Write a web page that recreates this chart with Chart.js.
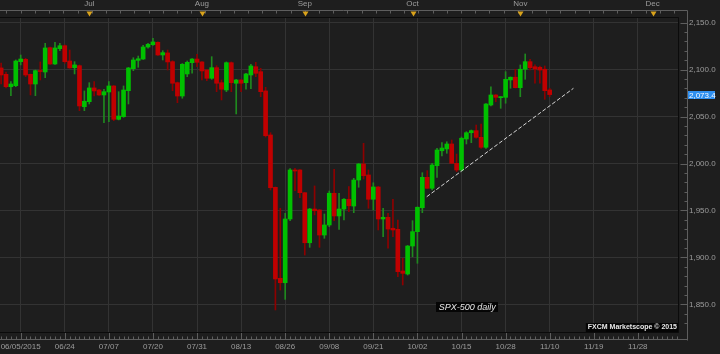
<!DOCTYPE html>
<html><head><meta charset="utf-8">
<script src="https://cdn.jsdelivr.net/npm/chart.js@4.4.0/dist/chart.umd.min.js"></script>
<style>html,body{margin:0;padding:0;background:#1e1e1e;}canvas{display:block;}</style>
</head><body>
<canvas id="c" width="720" height="354"></canvas>
<script>
const dates = ["06/05","06/08","06/09","06/10","06/11","06/12","06/15","06/16","06/17","06/18","06/19","06/22","06/23","06/24","06/25","06/26","06/29","06/30",
"07/01","07/02","07/03","07/06","07/07","07/08","07/09","07/10","07/13","07/14","07/15","07/16","07/17","07/20","07/21","07/22","07/23","07/24","07/27","07/28","07/29","07/30","07/31",
"08/03","08/04","08/05","08/06","08/07","08/10","08/11","08/12","08/13","08/14","08/17","08/18","08/19","08/20","08/21","08/24","08/25","08/26","08/27","08/28","08/31",
"09/01","09/02","09/03","09/04","09/07","09/08","09/09","09/10","09/11","09/14","09/15","09/16","09/17","09/18","09/21","09/22","09/23","09/24","09/25","09/28","09/29","09/30",
"10/01","10/02","10/05","10/06","10/07","10/08","10/09","10/12","10/13","10/14","10/15","10/16","10/19","10/20","10/21","10/22","10/23","10/26","10/27","10/28","10/29","10/30",
"11/02","11/03","11/04","11/05","11/06","11/09","11/10"];
const open = [2101.8,2095.0,2081.8,2082.9,2108.5,2111.0,2095.0,2084.7,2099.0,2097.5,
2123.4,2106.0,2122.3,2125.5,2109.2,2102.1,2104.2,2060.5,2065.9,2080.5,
2078.3,2073.0,2076.2,2082.6,2047.1,2049.9,2077.6,2101.0,2109.9,2111.3,
2124.1,2126.6,2129.1,2115.6,2117.8,2108.5,2086.1,2071.9,2095.4,2107.4,
2111.3,2108.2,2099.6,2090.8,2102.1,2086.1,2078.3,2107.4,2085.5,2089.0,
2086.1,2094.3,2103.1,2097.8,2077.3,2030.4,1974.6,1877.7,1873.0,1940.9,
1993.1,1993.1,1968.9,1915.6,1951.5,1950.5,1923.8,1934.5,1968.3,1944.1,
1951.5,1961.9,1954.7,1982.4,1999.5,1987.8,1961.9,1975.0,1940.9,1942.7,
1931.0,1929.9,1885.5,1882.3,1912.1,1927.4,1952.9,1985.3,1973.6,1997.7,
2013.6,2015.5,2020.8,2000.2,1993.1,2026.1,2032.8,2035.0,2027.9,2017.3,
2062.3,2073.0,2070.1,2070.5,2089.0,2091.9,2080.8,2100.4,2108.5,2103.1,
2102.5,2100.4,2078.3];
const high = [2107.1,2097.5,2087.2,2110.3,2115.6,2112.1,2095.4,2099.6,2108.2,2128.0,
2124.1,2129.1,2128.0,2126.3,2120.9,2108.5,2105.0,2077.3,2086.1,2087.2,
2078.9,2079.1,2087.2,2083.1,2076.5,2082.6,2102.3,2112.7,2114.5,2125.9,
2128.0,2133.4,2129.5,2120.2,2120.9,2109.5,2086.8,2106.5,2109.2,2111.9,
2116.3,2108.7,2100.2,2113.8,2104.2,2089.0,2108.2,2108.2,2089.5,2089.5,
2096.1,2105.7,2107.8,2101.4,2081.2,2032.8,1975.0,1952.3,1946.9,1994.5,
1994.9,1993.6,1969.1,1952.1,1976.1,1951.0,1946.2,1970.7,1993.8,1968.3,
1962.7,1975.3,1984.2,2000.0,2021.5,1993.1,1979.5,1975.5,1952.3,1947.0,
1961.9,1939.8,1899.0,1912.7,1939.1,1953.7,1990.2,1992.4,2000.2,2016.2,
2022.2,2023.2,2025.0,2010.1,2028.2,2033.9,2035.7,2041.0,2042.1,2063.9,
2081.8,2073.5,2071.4,2097.8,2092.2,2100.4,2105.0,2116.7,2111.0,2105.0,
2103.9,2103.9,2080.1];
const low = [2084.7,2080.5,2072.3,2081.8,2105.0,2092.5,2073.0,2072.3,2089.0,2091.4,
2105.5,2105.5,2120.2,2106.8,2101.4,2095.4,2056.3,2056.3,2063.4,2071.9,
2072.5,2043.5,2044.5,2045.6,2046.4,2049.2,2063.4,2098.9,2102.5,2110.8,
2122.8,2125.9,2115.1,2110.3,2099.6,2077.6,2064.8,2069.5,2092.5,2096.1,
2103.1,2089.0,2088.2,2089.7,2076.5,2067.7,2076.5,2076.5,2052.8,2076.5,
2079.1,2079.7,2092.5,2071.2,2028.2,1971.8,1844.0,1865.2,1855.3,1939.1,
1971.0,1963.6,1902.5,1910.7,1945.2,1910.7,1920.3,1932.7,1939.1,1929.9,
1939.8,1948.7,1947.6,1974.7,1983.5,1952.3,1950.5,1929.2,1922.0,1909.7,
1922.0,1879.4,1870.6,1881.2,1900.7,1893.7,1947.6,1973.4,1971.8,1985.3,
2008.0,2010.9,2000.0,1991.3,1992.0,2020.8,2022.2,2026.9,2016.2,2016.2,
2061.3,2065.8,2058.8,2064.2,2080.1,2080.5,2071.2,2089.7,2099.6,2085.5,
2085.5,2068.4,2071.2];
const close = [2094.3,2081.8,2084.7,2109.2,2111.3,2094.3,2084.7,2098.9,2098.0,2123.1,
2106.0,2123.1,2125.5,2108.5,2101.8,2105.0,2061.3,2066.3,2080.5,2077.3,
2073.0,2076.5,2082.6,2047.1,2050.6,2078.3,2101.8,2110.3,2111.6,2124.1,
2127.0,2129.5,2115.6,2118.1,2108.2,2085.5,2071.9,2105.7,2107.8,2111.3,
2107.8,2098.6,2090.8,2102.1,2085.5,2079.1,2107.4,2086.1,2089.0,2085.5,
2095.4,2103.9,2096.1,2076.5,2029.6,1974.2,1877.0,1873.0,1940.9,1993.1,
1992.0,1968.9,1915.6,1951.5,1949.7,1923.8,1934.5,1968.3,1944.1,1951.5,
1961.9,1955.0,1982.4,1999.5,1987.0,1961.9,1975.0,1940.9,1942.7,1930.2,
1929.2,1884.8,1883.0,1912.1,1927.4,1953.4,1985.3,1973.6,1998.4,2014.4,
2016.5,2020.8,2000.2,1993.1,2026.9,2032.8,2035.0,2027.9,2017.3,2063.4,
2073.0,2070.5,2071.2,2089.7,2091.9,2080.8,2100.4,2108.5,2102.1,2100.7,
2099.6,2077.6,2073.4];
const xTickIndex = [4,13,22,31,40,49,58,67,76,85,94,103,112,121,130];
const xTickLabels = ["06/05/2015","06/24","07/07","07/20","07/31","08/13","08/26","09/08","09/21","10/02","10/15","10/28","11/10","11/19","11/28"];
const monthIndex = [18,41,62,84,106,133];
const monthLabels = ["Jul","Aug","Sep","Oct","Nov","Dec"];
const yTicks = [1850,1900,1950,2000,2050,2100,2150];
const trendX = [86.9,116.85];
const trendY = [1964.6,2080.1];
const lastPrice = 2073.4;
const chartTitle = "SPX-500 daily";
const credit = "FXCM Marketscope \u00A9 2015";

const UP='#00c000', DN='#c00000', UPW='#1f8a1f', DNW='#8e0000';
const idx = dates.map((d,i)=>i);
const isUp = idx.map(i=>close[i]>=open[i]);
const wickData = idx.map(i=>({x:i,y:[low[i],high[i]]}));
const bodyData = idx.map(i=>({x:i,y:[Math.min(open[i],close[i]),Math.max(open[i],close[i])]}));
const trendData = trendX.map((v,i)=>({x:v,y:trendY[i]}));

const fmt = v => { const s=Number(v).toFixed(1).split('.'); return s[0].replace(/\B(?=(\d{3})+(?!\d))/g, ',')+'.'+s[1]; };
const FONT = 'Liberation Sans';
const LABEL = '#9c9c9c';
const XMIN=-0.225, XMAX=138.2;

const decor = {
  id:'decor',
  afterDraw(chart){
    const {ctx, chartArea:a, scales} = chart;
    const x=scales.x, y=scales.y;
    ctx.save();
    const axTop=a.top-6.5, axRight=a.right+9.5, axBottom=a.bottom+7.5;
    // dark frame
    ctx.strokeStyle='#0b0b0b'; ctx.lineWidth=1;
    ctx.beginPath();
    ctx.moveTo(a.left,a.top+0.5); ctx.lineTo(a.right+0.5,a.top+0.5); ctx.lineTo(a.right+0.5,a.bottom+0.5); ctx.lineTo(a.left,a.bottom+0.5);
    ctx.stroke();
    // gray axis lines
    ctx.strokeStyle='#5e5e5e';
    ctx.beginPath();
    ctx.moveTo(a.left,axTop); ctx.lineTo(axRight,axTop); ctx.lineTo(axRight,axBottom+1); 
    ctx.moveTo(a.left,axBottom); ctx.lineTo(axRight,axBottom);
    ctx.stroke();
    ctx.beginPath();
    for(let i=Math.ceil(XMIN);i<=XMAX;i++){
      const px=Math.round(x.getPixelForValue(i))+0.5;
      ctx.moveTo(px,axBottom-3); ctx.lineTo(px,axBottom);
    }
    xTickIndex.forEach(v=>{const px=Math.round(x.getPixelForValue(v))+0.5; ctx.moveTo(px,a.bottom+1); ctx.lineTo(px,axBottom);});
    for(let i=1.1;i<XMAX;i+=2.9){
      const px=Math.round(x.getPixelForValue(i))+0.5;
      ctx.moveTo(px,axTop); ctx.lineTo(px,axTop+3);
    }
    for(let v=1830; v<=2150; v+=10){
      const py=Math.round(y.getPixelForValue(v))+0.5;
      const len = (v%50===0)?7:3;
      ctx.moveTo(axRight-len,py); ctx.lineTo(axRight,py);
    }
    ctx.stroke();
    // month triangles
    ctx.fillStyle='#d9a21b';
    monthIndex.forEach(m=>{
      const px=Math.round(x.getPixelForValue(m))+0.5;
      ctx.beginPath(); ctx.moveTo(px-3,axTop+1); ctx.lineTo(px+3,axTop+1); ctx.lineTo(px,axTop+6); ctx.closePath(); ctx.fill();
    });
    // last price box
    const py=y.getPixelForValue(lastPrice);
    ctx.fillStyle='#2e8ff0';
    ctx.fillRect(a.right+10, Math.round(py)-4, 27, 8);
    ctx.fillStyle='#f4f8ff'; ctx.font='8px "'+FONT+'"'; ctx.textBaseline='middle'; ctx.textAlign='left';
    ctx.fillText(fmt(lastPrice), a.right+11, Math.round(py)+0.5);
    // title box
    ctx.font='italic 9px "'+FONT+'"';
    const tw=ctx.measureText(chartTitle).width;
    const tx=x.getPixelForValue(95.15);
    ctx.fillStyle='#050505';
    ctx.fillRect(Math.round(tx-tw/2-2.5), a.bottom-30, Math.round(tw+5), 10);
    ctx.fillStyle='#e6e6e6'; ctx.textAlign='center';
    ctx.fillText(chartTitle, tx, a.bottom-24.5);
    // credit
    ctx.font='bold 7px "'+FONT+'"';
    const cw=ctx.measureText(credit).width;
    ctx.fillStyle='#050505';
    ctx.fillRect(a.right-cw-3, a.bottom-9, cw+3, 9);
    ctx.fillStyle='#e8e8e8'; ctx.textAlign='right';
    ctx.fillText(credit, a.right-1, a.bottom-4.5);
    ctx.restore();
  }
};

new Chart(document.getElementById('c'), {
  type:'bar',
  data:{ datasets:[
    { type:'line', data:trendData, borderColor:'#d6d6d6', borderWidth:1, borderDash:[4,2], pointRadius:0, order:0, xAxisID:'x', yAxisID:'y' },
    { data:bodyData, backgroundColor:isUp.map(u=>u?UP:DN), barThickness:4, minBarLength:1, grouped:false, order:1, borderWidth:0, xAxisID:'x', yAxisID:'y' },
    { data:wickData, backgroundColor:isUp.map(u=>u?UPW:DNW), barThickness:1, grouped:false, order:2, borderWidth:0, xAxisID:'x', yAxisID:'y' }
  ]},
  options:{
    responsive:false, devicePixelRatio:1, animation:false,
    layout:{padding:0},
    plugins:{legend:{display:false}, tooltip:{enabled:false}},
    scales:{
      x:{ type:'linear', position:'bottom', min:XMIN, max:XMAX, offset:false,
        afterBuildTicks:s=>{ s.ticks = xTickIndex.map(v=>({value:v})); },
        afterFit:s=>{ s.height=22; s.paddingLeft=0; s.paddingRight=0; },
        ticks:{ autoSkip:false, maxRotation:0, minRotation:0, padding:10, color:LABEL, font:{family:FONT,size:8},
          callback:(v)=>{ const k=xTickIndex.indexOf(v); return k>=0?xTickLabels[k]:''; } },
        grid:{ color:'#333333', drawTicks:false, offset:false, lineWidth:1 },
        border:{ display:false }
      },
      xTop:{ type:'linear', position:'top', min:XMIN, max:XMAX, offset:false,
        afterBuildTicks:s=>{ s.ticks = monthIndex.map(v=>({value:v})); },
        afterFit:s=>{ s.height=17; s.paddingLeft=0; s.paddingRight=0; },
        ticks:{ autoSkip:false, maxRotation:0, minRotation:0, padding:8, color:LABEL, font:{family:FONT,size:8},
          callback:(v)=>{ const k=monthIndex.indexOf(v); return k>=0?monthLabels[k]:''; } },
        grid:{ display:false, drawTicks:false },
        border:{ display:false }
      },
      y:{ type:'linear', position:'right', min:1820.5, max:2156.07,
        afterBuildTicks:s=>{ s.ticks = yTicks.map(v=>({value:v})); },
        afterFit:s=>{ s.width=42; s.paddingTop=0; s.paddingBottom=0; },
        ticks:{ padding:11, color:LABEL, font:{family:FONT,size:8}, callback:v=>fmt(v) },
        grid:{ color:'#333333', drawTicks:false, lineWidth:1 },
        border:{ display:false }
      }
    }
  },
  plugins:[decor]
});
</script>
</body></html>
